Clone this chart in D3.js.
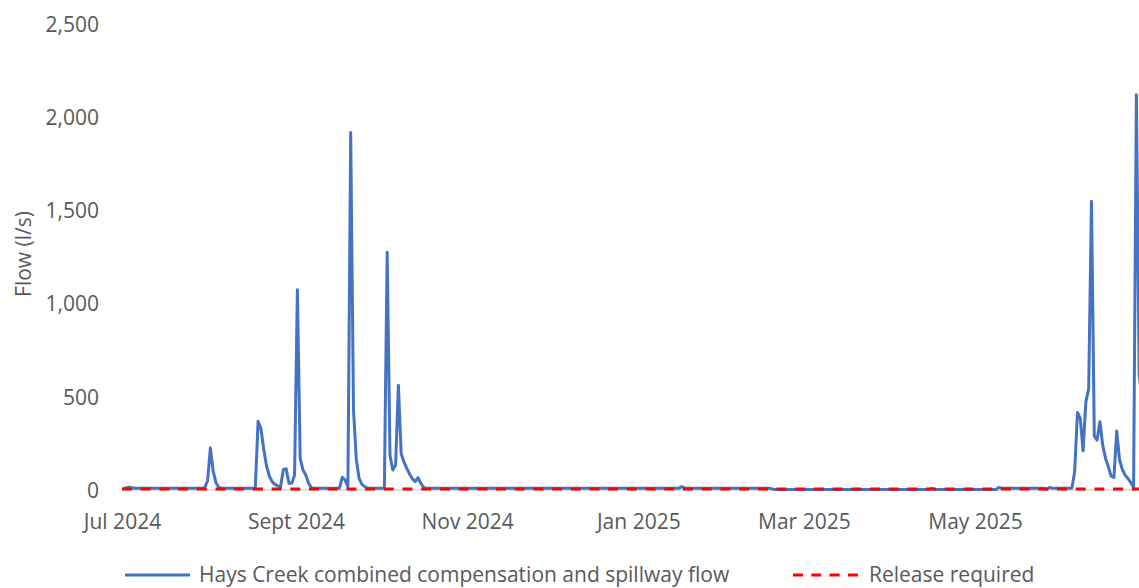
<!DOCTYPE html>
<html><head><meta charset="utf-8">
<script src="https://cdn.jsdelivr.net/npm/d3@7"></script>
<style>
body{margin:0;background:#fff;}
text{font-family:"Open Sans",sans-serif;fill:#595959;}
</style>
</head><body>
<svg id="c" width="1139" height="588"></svg>
<script>
const flowDates = ["2024-07-01","2024-07-03","2024-07-05","2024-07-29","2024-07-30","2024-07-31","2024-08-01","2024-08-02","2024-08-03","2024-08-04","2024-08-05",
"2024-08-17","2024-08-18","2024-08-19","2024-08-20","2024-08-21","2024-08-22","2024-08-23","2024-08-24","2024-08-25","2024-08-26","2024-08-27","2024-08-28","2024-08-29","2024-08-30","2024-08-31",
"2024-09-01","2024-09-02","2024-09-03","2024-09-04","2024-09-05","2024-09-06","2024-09-07","2024-09-16","2024-09-17","2024-09-18","2024-09-19","2024-09-20","2024-09-21","2024-09-22","2024-09-23","2024-09-24","2024-09-25","2024-09-26",
"2024-10-02","2024-10-03","2024-10-04","2024-10-05","2024-10-06","2024-10-07","2024-10-08","2024-10-09","2024-10-10","2024-10-11","2024-10-12","2024-10-13","2024-10-14","2024-10-15","2024-10-16","2024-10-17",
"2025-01-15","2025-01-16","2025-01-17","2025-02-16","2025-02-18","2025-04-14","2025-04-15","2025-04-16","2025-05-08","2025-05-09","2025-05-10","2025-05-25","2025-05-26","2025-05-27","2025-05-28",
"2025-06-04","2025-06-05","2025-06-06","2025-06-07","2025-06-08","2025-06-09","2025-06-10","2025-06-11","2025-06-12","2025-06-13","2025-06-14","2025-06-15","2025-06-16","2025-06-17","2025-06-18","2025-06-19","2025-06-20","2025-06-21","2025-06-22","2025-06-23","2025-06-24","2025-06-25","2025-06-26","2025-06-27","2025-06-28","2025-06-29","2025-06-30"];
const flowValues = [8,15,9,9,12,50,226,98,39,14,10,
10,369,330,220,130,75,45,30,22,16,110,114,36,36,80,
1074,170,107,80,36,12,10,10,68,54,18,1918,428,164,62,30,18,9,
9,1276,187,107,134,562,193,150,116,85,60,45,66,35,14,10,
10,18,10,10,3,3,8,3,3,14,10,10,3,14,10,
10,98,416,384,210,473,544,1549,289,268,366,241,170,125,75,68,317,161,110,80,62,40,14,2120,620,480,400];
const releaseDates = ["2024-07-01","2025-06-30"];
const releaseValues = [5,5];
const yTicks = [0,500,1000,1500,2000,2500];
const xTickDates = ["2024-07-01","2024-09-01","2024-11-01","2025-01-01","2025-03-01","2025-05-01"];
const xTickLabels = ["Jul 2024","Sept 2024","Nov 2024","Jan 2025","Mar 2025","May 2025"];
const seriesNames = ["Hays Creek combined compensation and spillway flow","Release required"];

const parse = d3.utcParse("%Y-%m-%d");
const midday = s => d3.utcHour.offset(parse(s), 12);
const svg = d3.select("#c");
const x = d3.scaleUtc().domain([parse("2024-07-01"), parse("2025-06-30")]).range([122, 1143.4]);
const y = d3.scaleLinear().domain([0, 2500]).range([490, 24]);

// y axis labels
const yAxis = d3.axisLeft(y).tickValues(yTicks).tickFormat(d3.format(",")).tickSize(0).tickPadding(0);
const gy = svg.append("g").attr("transform","translate(99,0)").call(yAxis);
gy.select(".domain").remove();
gy.selectAll("text").attr("font-size",21).attr("dy","0.35em").style("font-family","'Open Sans',sans-serif").attr("fill","#595959");

// axis line
svg.append("line").attr("x1",x.range()[0]).attr("x2",x.range()[1]).attr("y1",y(0)).attr("y2",y(0))
  .attr("stroke","#d9d9d9").attr("stroke-width",1.5);

// x axis labels
const xAxis = d3.axisBottom(x).tickValues(xTickDates.map(parse)).tickFormat((d,i)=>xTickLabels[i]).tickSize(0).tickPadding(0);
const gx = svg.append("g").attr("transform","translate(0,522)").call(xAxis);
gx.select(".domain").remove();
gx.selectAll("text").attr("font-size",21).attr("y",0).attr("dy","0.35em").style("font-family","'Open Sans',sans-serif").attr("fill","#595959");

// y title
svg.append("text").attr("transform","translate(24,254) rotate(-90)").attr("text-anchor","middle")
  .attr("dy","0.35em").attr("font-size",21).text("Flow (l/s)");

const line = d3.line().x(d=>x(d[0])).y(d=>y(d[1]));
const flowData = flowDates.map((d,i)=>[midday(d), flowValues[i]]);
const relData = releaseDates.map((d,i)=>[parse(d), releaseValues[i]]);

svg.append("path").datum(flowData).attr("d",line).attr("fill","none")
  .attr("stroke","#4472C4").attr("stroke-width",3).attr("stroke-linejoin","round");
svg.append("path").datum(relData).attr("d",line).attr("fill","none")
  .attr("stroke","#FF0000").attr("stroke-width",3).attr("stroke-dasharray","10,8.7");

// legend
const lg = svg.append("g");
lg.append("line").attr("x1",125).attr("x2",190).attr("y1",575).attr("y2",575).attr("stroke","#4472C4").attr("stroke-width",3);
lg.append("text").attr("x",199).attr("y",575).attr("dy","0.35em").attr("font-size",21).text(seriesNames[0]);
lg.append("line").attr("x1",793).attr("x2",858).attr("y1",575).attr("y2",575).attr("stroke","#FF0000").attr("stroke-width",3).attr("stroke-dasharray","10,8.3");
lg.append("text").attr("x",869).attr("y",575).attr("dy","0.35em").attr("font-size",21).text(seriesNames[1]);
</script>
</body></html>
